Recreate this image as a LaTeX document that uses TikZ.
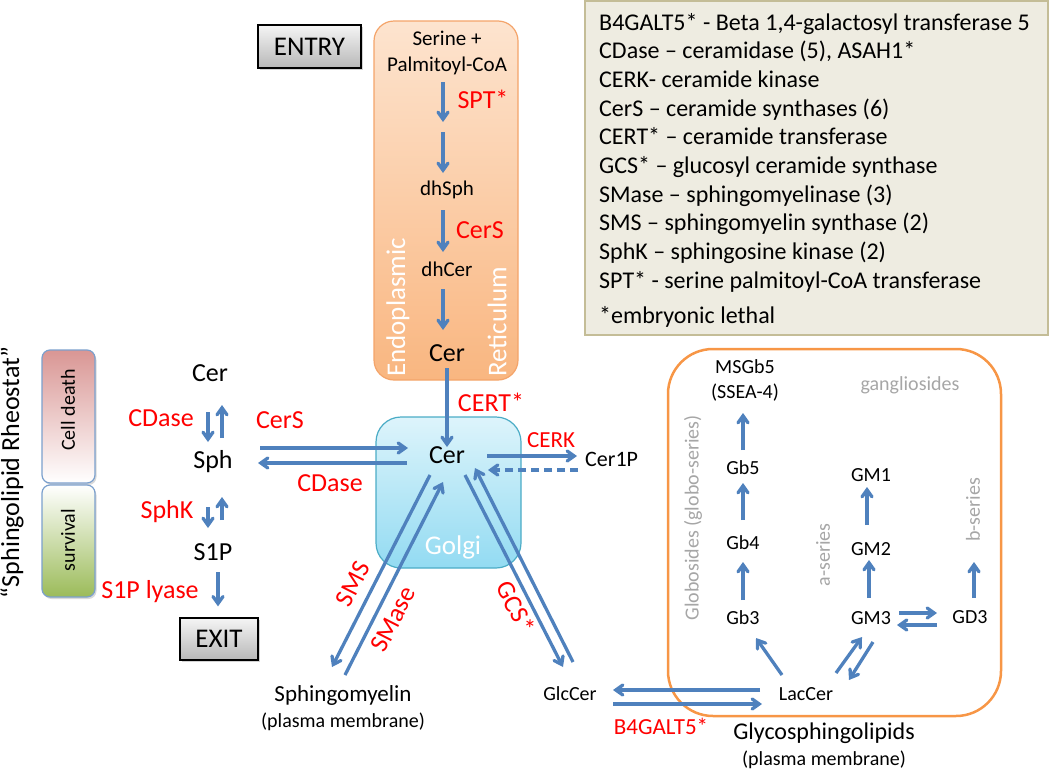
\documentclass[tikz,border=0pt]{standalone}
\usepackage{fontspec}
\setmainfont{Carlito}
\usetikzlibrary{arrows.meta,shadows,calc}
\definecolor{ablue}{HTML}{4F81BD}
\definecolor{ered}{HTML}{FF0000}
\definecolor{lgray}{HTML}{A6A6A6}
\definecolor{ertop}{HTML}{FDE4CF}
\definecolor{erbot}{HTML}{F9B680}
\definecolor{erdraw}{HTML}{F4A46A}
\definecolor{gtop}{HTML}{DDF4FB}
\definecolor{gbot}{HTML}{93DBF2}
\definecolor{gdraw}{HTML}{4BACC6}
\definecolor{orng}{HTML}{F79646}
\definecolor{legfill}{HTML}{EEECE1}
\definecolor{legdraw}{HTML}{C4BD97}
\definecolor{deathc}{HTML}{D99694}
\definecolor{survc}{HTML}{9BBB59}
\newcommand\fsz[2]{\fontsize{#1}{#2}\selectfont}
\begin{document}
\begin{tikzpicture}[x=1pt,y=-1pt,
  arr/.style={draw=ablue, line width=3.3pt, line join=round, -{Straight Barb[length=7pt,width=10pt,line cap=round]}},
  txt/.style={inner sep=0pt, font=\fsz{20}{24}},
  etxt/.style={inner sep=0pt, font=\fsz{21}{26}, align=center},
  big/.style={inner sep=0pt, font=\fsz{26}{30}},
  enz/.style={inner sep=0pt, font=\fsz{26}{30}, text=ered},
  gtxt/.style={inner sep=0pt, font=\fsz{20}{24}, text=lgray},
  wtxt/.style={inner sep=0pt, font=\fsz{27}{30}, text=white},
  legline/.style={inner sep=0pt, anchor=base west, font=\fsz{24}{28}},
  graybox/.style={draw=black, line width=1.3pt, top color=white!96!black, bottom color=black!28,
     drop shadow={shadow xshift=2pt, shadow yshift=-2pt, opacity=0.35}, inner sep=0pt, font=\fsz{27}{30}},
  sidebox/.style={draw=ablue!75, line width=1.2pt, rounded corners=8pt, inner sep=0pt,
     drop shadow={shadow xshift=1.5pt, shadow yshift=-2pt, opacity=0.3}},
]
\useasboundingbox (0,0) rectangle (1050,774);

% ---------- Legend ----------
\node[draw=legdraw, line width=1.5pt, fill=legfill, minimum width=463, minimum height=334, inner sep=0pt] (legend) at (816.5,168) {};
\node[legline] (lg1) at (599,30) {B4GALT5* - Beta 1,4-galactosyl transferase 5};
\node[legline] (lg2) at (599,58.7) {CDase – ceramidase (5), ASAH1*};
\node[legline] (lg3) at (599,87.4) {CERK- ceramide kinase};
\node[legline] (lg4) at (599,116.1) {CerS – ceramide synthases (6)};
\node[legline] (lg5) at (599,144.8) {CERT* – ceramide transferase};
\node[legline] (lg6) at (599,173.5) {GCS* – glucosyl ceramide synthase};
\node[legline] (lg7) at (599,202.2) {SMase – sphingomyelinase (3)};
\node[legline] (lg8) at (599,230.9) {SMS – sphingomyelin synthase (2)};
\node[legline] (lg9) at (599,259.6) {SphK – sphingosine kinase (2)};
\node[legline] (lg10) at (599,288.3) {SPT* - serine palmitoyl-CoA transferase};
\node[legline] (lg11) at (599,323) {*embryonic lethal};

% ---------- ER ----------
\node[graybox, minimum width=103, minimum height=43] (entry) at (309.5,46.5) {ENTRY};
\node[draw=erdraw, line width=1.2pt, rounded corners=20pt, top color=ertop, bottom color=erbot,
      minimum width=144, minimum height=359, inner sep=0pt] (er) at (446,200.5) {};
\node[wtxt, rotate=90, anchor=west] (endo) at (398,377) {Endoplasmic};
\node[wtxt, rotate=90, anchor=west] (reti) at (497,377) {Reticulum};
\node[etxt] (ser) at (447,53) {Serine +\\Palmitoyl-CoA};
\node[etxt] (dhsph) at (447,190) {dhSph};
\node[etxt] (dhcer) at (447,269) {dhCer};
\node[big] (cerER) at (447,353) {Cer};
\node[enz] (spt) at (483,99) {SPT*};
\node[enz] (cers1) at (480,230) {CerS};
\draw[arr] ($(ser)+(-4,29)$) -- ($(ser)+(-4,69)$);
\draw[arr] ($(dhsph)+(-4,-58)$) -- ($(dhsph)+(-4,-17)$);
\draw[arr] ($(dhsph)+(-4,20)$) -- ($(dhcer)+(-4,-17)$);
\draw[arr] ($(dhcer)+(-4,20)$) -- ($(cerER)+(-4,-23)$);

% ---------- Golgi ----------
\node[draw=gdraw, line width=1.2pt, rounded corners=25pt, top color=gtop, bottom color=gbot,
      minimum width=145, minimum height=151, inner sep=0pt] (golgi) at (448.5,492.5) {};
\node[wtxt] (golgil) at (453,547) {Golgi};
\node[big] (cerG) at (447,455) {Cer};
\draw[arr] ($(cerER)+(0,15)$) -- ($(cerG)+(0,-8)$);
\node[enz] (cert) at (491,402) {CERT*};

% CERK / Cer1P
\node[inner sep=0pt, font=\fsz{22}{26}, anchor=west] (cer1p) at (585,459) {Cer1P};
\node[enz, font=\fsz{23}{27}] (cerk) at (551,440) {CERK};
\draw[arr] ($(cerG)+(40,1)$) -- ($(cer1p.west)+(-8,-3)$);
\draw[arr, dash pattern=on 8pt off 5pt] ($(cer1p.west)+(-7,11)$) -- ($(cerG)+(41,15)$);

% ---------- Left: rheostat ----------
\node[inner sep=0pt, font=\fsz{26}{30}, rotate=90] (rheo) at (12,472) {“Sphingolipid Rheostat”};
\node[sidebox, top color=deathc, bottom color=white, minimum width=53, minimum height=133] (death) at (68.5,416.5) {};
\node[sidebox, top color=white, bottom color=survc, minimum width=53, minimum height=112] (surv) at (68.5,541) {};
\node[txt, rotate=90] (deathl) at (68,410) {Cell death};
\node[txt, rotate=90] (survl) at (68,540) {survival};

\node[big] (cerL) at (210,373) {Cer};
\node[big] (sph) at (213,462) {Sph};
\node[big] (s1p) at (213,552) {S1P};
\node[graybox, minimum width=78, minimum height=42] (exit) at (219,639) {EXIT};
\node[enz] (cdase1) at (161,418) {CDase};
\node[enz] (sphk) at (167,512) {SphK};
\node[enz] (lyase) at (150,592) {S1P lyase};
\draw[arr] ($(cerL)+(-2,39)$) -- ($(sph)+(-5,-20)$);
\draw[arr] ($(sph)+(9,-24)$) -- ($(cerL)+(12,32)$);
\draw[arr] ($(sph)+(-5,45)$) -- ($(s1p)+(-5,-24)$);
\draw[arr] ($(s1p)+(9,-32)$) -- ($(sph)+(9,35)$);
\draw[arr] ($(s1p)+(5,20)$) -- ($(exit.north)+(-1,-11)$);

% CerS / CDase between Sph and Golgi Cer
\draw[arr] ($(sph)+(47,-14)$) -- ($(cerG)+(-39,-7)$);
\draw[arr] ($(cerG)+(-40,8)$) -- ($(sph)+(45,1)$);
\node[enz] (cers2) at (280,420) {CerS};
\node[enz] (cdase2) at (330,483) {CDase};

% ---------- Sphingomyelin ----------
\node[inner sep=0pt, font=\fsz{23}{27}] (sm) at (343,695) {Sphingomyelin};
\node[txt] (smpm) at (343,722) {(plasma membrane)};
\draw[arr] ($(cerG)+(-17,20)$) -- ($(sm)+(-11,-28)$);
\draw[arr] ($(sm)+(2,-20)$) -- ($(cerG)+(-4,27)$);
\node[enz, rotate=63] (sms) at (353,584) {SMS};
\node[enz, rotate=63] (smase) at (393,619) {SMase};

% ---------- GlcCer ----------
\node[txt] (glc) at (570,694) {GlcCer};
\draw[arr] ($(cerG)+(18,20)$) -- ($(glc)+(-7,-27)$);
\draw[arr] ($(glc)+(3,-32)$) -- ($(cerG)+(28,13)$);
\node[enz, rotate=-63] (gcs) at (516,607) {GCS*};

% ---------- Glycosphingolipid box ----------
\node[draw=orng, line width=2.5pt, rounded corners=45pt, minimum width=333, minimum height=367, inner sep=0pt] (gbox) at (834.5,532.5) {};
\node[txt] (lac) at (806,694) {LacCer};
\draw[arr] ($(lac)+(-46,-4)$) -- ($(glc)+(43,-4)$);
\draw[arr] ($(glc)+(43,10)$) -- ($(lac)+(-44,10)$);
\node[enz, font=\fsz{23}{27}] (b4g) at (661,726) {B4GALT5*};
\node[inner sep=0pt, font=\fsz{24}{28}] (gsl) at (824,733) {Glycosphingolipids};
\node[txt] (gslpm) at (824,760) {(plasma membrane)};

\node[txt, align=center, font=\fsz{20}{25}] (msgb5) at (745,380) {MSGb5\\(SSEA-4)};
\node[txt] (gb5) at (743,468) {Gb5};
\node[txt] (gb4) at (743,543) {Gb4};
\node[txt] (gb3) at (743,618) {Gb3};
\node[txt] (gm1) at (871,475) {GM1};
\node[txt] (gm2) at (871,549) {GM2};
\node[txt] (gm3) at (871,618) {GM3};
\node[txt] (gd3) at (970,617) {GD3};
\node[gtxt] (gang) at (910,385) {gangliosides};
\node[gtxt, rotate=90] (globo) at (693,518) {Globosides (globo-series)};
\node[gtxt, rotate=90] (aser) at (823,555) {a-series};
\node[gtxt, rotate=90] (bser) at (973,510) {b-series};

\draw[arr] ($(gb5)+(0,-18)$) -- ($(msgb5)+(-2,33)$);
\draw[arr] ($(gb4)+(0,-23)$) -- ($(gb5)+(0,15)$);
\draw[arr] ($(gb3)+(0,-18)$) -- ($(gb4)+(0,19)$);
\draw[arr] ($(lac)+(-24,-19)$) -- ($(gb3)+(13,20)$);
\draw[arr] ($(gm2)+(-4,-24)$) -- ($(gm1)+(-4,12)$);
\draw[arr] ($(gm3)+(-2,-20)$) -- ($(gm2)+(-2,11)$);
\draw[arr] ($(lac)+(30,-21)$) -- ($(gm3)+(-9,19)$);
\draw[arr] ($(gm3)+(2,24)$) -- ($(lac)+(43,-14)$);
\draw[arr] ($(gm3)+(28,-5)$) -- ($(gd3)+(-33,-4)$);
\draw[arr] ($(gd3)+(-33,8)$) -- ($(gm3)+(26,7)$);
\coordinate (bend) at ($(gd3)+(4,-55)$);
\draw[arr] ($(gd3)+(4,-19)$) -- (bend);
\end{tikzpicture}
\end{document}
